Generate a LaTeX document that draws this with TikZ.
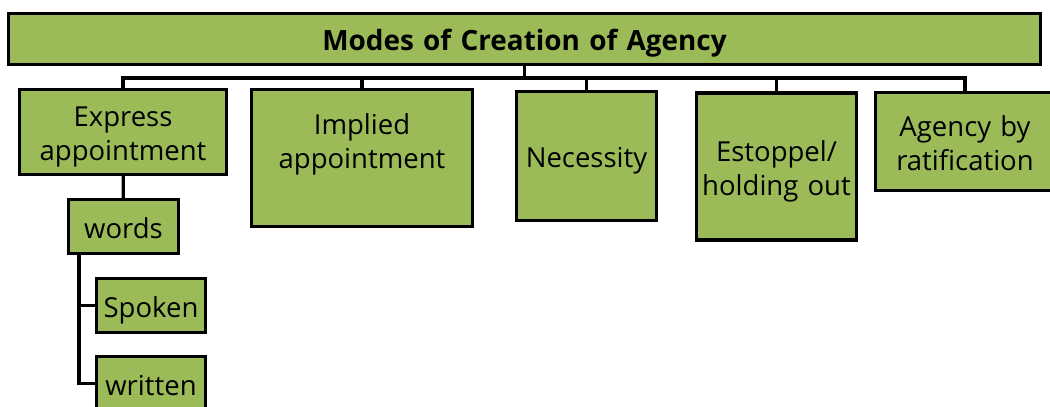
\documentclass[tikz,border=0pt]{standalone}
\usepackage{fontspec}
\setmainfont{Open Sans}
\usetikzlibrary{positioning}
\definecolor{boxgreen}{HTML}{9BBB59}

\begin{document}
\begin{tikzpicture}[x=1pt,y=-1pt,line width=3.3pt,
    box/.style={draw=black,fill=boxgreen,rectangle,align=center,inner sep=2pt,
                font=\fontsize{27.5}{34}\selectfont,text height=30pt,text depth=7pt},
    twoline/.style={text depth=41pt},
    link/.style={draw=black,line width=3.3pt}]
          \useasboundingbox (0,0) rectangle (1050,407);
          \clip (0,0) rectangle (1050,407);

          \node[box,minimum width=1032,minimum height=51,text width=1000,text depth=8pt,
                font=\bfseries\fontsize{27.9}{30}\selectfont]
                                            (title)     at (524.5,39)  {Modes of Creation of Agency};
          \node[box,twoline,text width=195,minimum width=207,minimum height=85]  (express)   at (123,132)   {Express\\appointment};
          \node[box,twoline,text width=210,minimum width=221,minimum height=137,text depth=77pt]
                                                                                 (implied)   at (362,158)   {Implied\\appointment};
          \node[box,text width=130,minimum width=140,minimum height=129]         (necessity) at (586.5,156) {Necessity};
          \node[box,twoline,text width=155,minimum width=160,minimum height=147] (estoppel)  at (776.5,166.5) {Estoppel/\\holding out};
          \node[box,twoline,text width=170,minimum width=179,minimum height=98]  (ratify)    at (965,141.5) {Agency by\\ratification};
          \node[box,text width=100,minimum width=110,minimum height=54]          (words)     at (123.5,226.5) {words};
          \node[box,text width=100,minimum width=109,minimum height=54]          (spoken)    at (151,305.5) {Spoken};
          \node[box,text width=100,minimum width=109,minimum height=54]          (written)   at (151,383.5) {written};

          \coordinate (bus) at (524.5,78);

          \draw[link] (title.south) -- (bus);
          \foreach \n in {express,implied,necessity,estoppel,ratify}
            \draw[link] (bus) -| (\n.north);
          \draw[link] (express) -- (words);
          \draw[link] ([xshift=12]words.south west) |- (spoken.west);
          \draw[link] ([xshift=12]words.south west) |- (written.west);
\end{tikzpicture}
\end{document}
